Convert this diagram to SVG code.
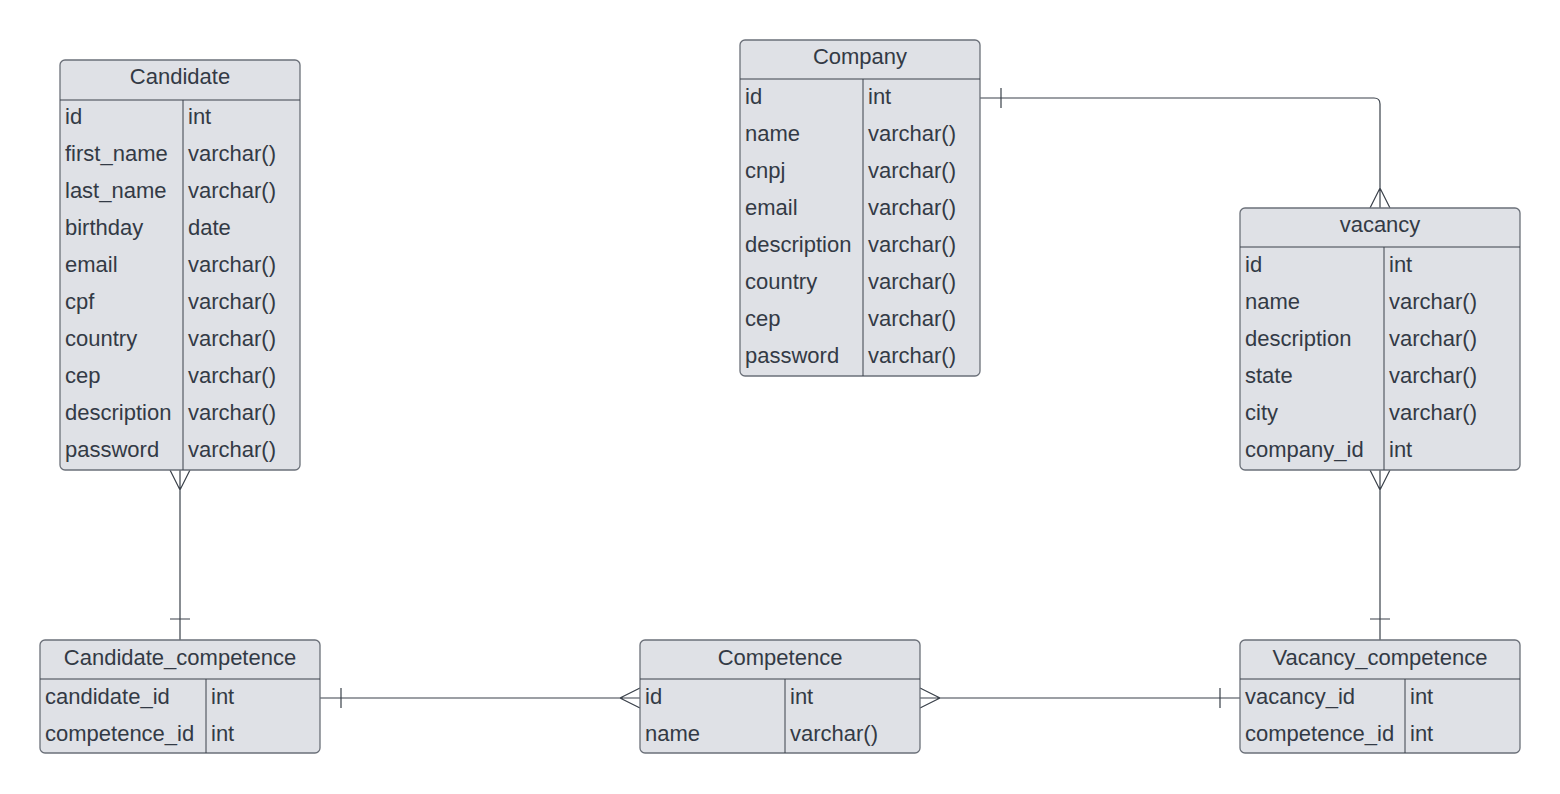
<svg xmlns="http://www.w3.org/2000/svg" width="1560" height="794" viewBox="0 0 1560 794">
  <style>
    .box { fill: #dfe1e6; stroke: #6b7079; stroke-width: 1.3; }
    .sep { stroke: #3a414a; stroke-width: 1; fill: none; }
    .hd { font-family: "Liberation Sans", Arial, sans-serif; font-size: 22px; fill: #333a45; text-anchor: middle; }
    .tx { font-family: "Liberation Sans", Arial, sans-serif; font-size: 22px; fill: #333a45; }
    .ln { stroke: #3a414a; stroke-width: 1.2; fill: none; }
  </style>
  <rect width="1560" height="794" fill="#ffffff"/>

  <!-- relationships -->
  <g id="connectors">
    <!-- Candidate 1..N Candidate_competence -->
    <path class="ln" d="M180 470 V640 M170 470 L180 490 L190 470 M170 619 H190"/>
    <!-- vacancy N..1 Vacancy_competence -->
    <path class="ln" d="M1380 470 V640 M1370 470 L1380 490 L1390 470 M1370 619 H1390"/>
    <!-- Company 1..N vacancy -->
    <path class="ln" d="M980 98 H1374 Q1380 98 1380 104 V208 M1370 208 L1380 188 L1390 208 M1001 88 V108"/>
    <!-- Candidate_competence N..1 Competence -->
    <path class="ln" d="M320 698 H640 M341 688 V708 M640 688 L620 698 L640 708"/>
    <!-- Competence 1..N Vacancy_competence -->
    <path class="ln" d="M920 698 H1240 M920 688 L940 698 L920 708 M1220 688 V708"/>
  </g>

  <g id="candidate">
    <rect class="box" x="60" y="60" width="240" height="410" rx="5"/>
    <path class="sep" d="M60 100 H300 M183 100 V470"/>
    <text class="hd" x="180" y="84">Candidate</text>
    <text class="tx" x="65" y="124">id</text><text class="tx" x="188" y="124">int</text>
    <text class="tx" x="65" y="161">first_name</text><text class="tx" x="188" y="161">varchar()</text>
    <text class="tx" x="65" y="198">last_name</text><text class="tx" x="188" y="198">varchar()</text>
    <text class="tx" x="65" y="235">birthday</text><text class="tx" x="188" y="235">date</text>
    <text class="tx" x="65" y="272">email</text><text class="tx" x="188" y="272">varchar()</text>
    <text class="tx" x="65" y="309">cpf</text><text class="tx" x="188" y="309">varchar()</text>
    <text class="tx" x="65" y="346">country</text><text class="tx" x="188" y="346">varchar()</text>
    <text class="tx" x="65" y="383">cep</text><text class="tx" x="188" y="383">varchar()</text>
    <text class="tx" x="65" y="420">description</text><text class="tx" x="188" y="420">varchar()</text>
    <text class="tx" x="65" y="457">password</text><text class="tx" x="188" y="457">varchar()</text>
  </g>

  <g id="company">
    <rect class="box" x="740" y="40" width="240" height="336" rx="5"/>
    <path class="sep" d="M740 79 H980 M863 79 V376"/>
    <text class="hd" x="860" y="64">Company</text>
    <text class="tx" x="745" y="104">id</text><text class="tx" x="868" y="104">int</text>
    <text class="tx" x="745" y="141">name</text><text class="tx" x="868" y="141">varchar()</text>
    <text class="tx" x="745" y="178">cnpj</text><text class="tx" x="868" y="178">varchar()</text>
    <text class="tx" x="745" y="215">email</text><text class="tx" x="868" y="215">varchar()</text>
    <text class="tx" x="745" y="252">description</text><text class="tx" x="868" y="252">varchar()</text>
    <text class="tx" x="745" y="289">country</text><text class="tx" x="868" y="289">varchar()</text>
    <text class="tx" x="745" y="326">cep</text><text class="tx" x="868" y="326">varchar()</text>
    <text class="tx" x="745" y="363">password</text><text class="tx" x="868" y="363">varchar()</text>
  </g>

  <g id="vacancy">
    <rect class="box" x="1240" y="208" width="280" height="262" rx="5"/>
    <path class="sep" d="M1240 247 H1520 M1384 247 V470"/>
    <text class="hd" x="1380" y="232">vacancy</text>
    <text class="tx" x="1245" y="272">id</text><text class="tx" x="1389" y="272">int</text>
    <text class="tx" x="1245" y="309">name</text><text class="tx" x="1389" y="309">varchar()</text>
    <text class="tx" x="1245" y="346">description</text><text class="tx" x="1389" y="346">varchar()</text>
    <text class="tx" x="1245" y="383">state</text><text class="tx" x="1389" y="383">varchar()</text>
    <text class="tx" x="1245" y="420">city</text><text class="tx" x="1389" y="420">varchar()</text>
    <text class="tx" x="1245" y="457">company_id</text><text class="tx" x="1389" y="457">int</text>
  </g>

  <g id="candidate_competence">
    <rect class="box" x="40" y="640" width="280" height="113" rx="5"/>
    <path class="sep" d="M40 679 H320 M206 679 V753"/>
    <text class="hd" x="180" y="665">Candidate_competence</text>
    <text class="tx" x="45" y="704">candidate_id</text><text class="tx" x="211" y="704">int</text>
    <text class="tx" x="45" y="741">competence_id</text><text class="tx" x="211" y="741">int</text>
  </g>

  <g id="competence">
    <rect class="box" x="640" y="640" width="280" height="113" rx="5"/>
    <path class="sep" d="M640 679 H920 M785 679 V753"/>
    <text class="hd" x="780" y="665">Competence</text>
    <text class="tx" x="645" y="704">id</text><text class="tx" x="790" y="704">int</text>
    <text class="tx" x="645" y="741">name</text><text class="tx" x="790" y="741">varchar()</text>
  </g>

  <g id="vacancy_competence">
    <rect class="box" x="1240" y="640" width="280" height="113" rx="5"/>
    <path class="sep" d="M1240 679 H1520 M1405 679 V753"/>
    <text class="hd" x="1380" y="665">Vacancy_competence</text>
    <text class="tx" x="1245" y="704">vacancy_id</text><text class="tx" x="1410" y="704">int</text>
    <text class="tx" x="1245" y="741">competence_id</text><text class="tx" x="1410" y="741">int</text>
  </g>
</svg>
